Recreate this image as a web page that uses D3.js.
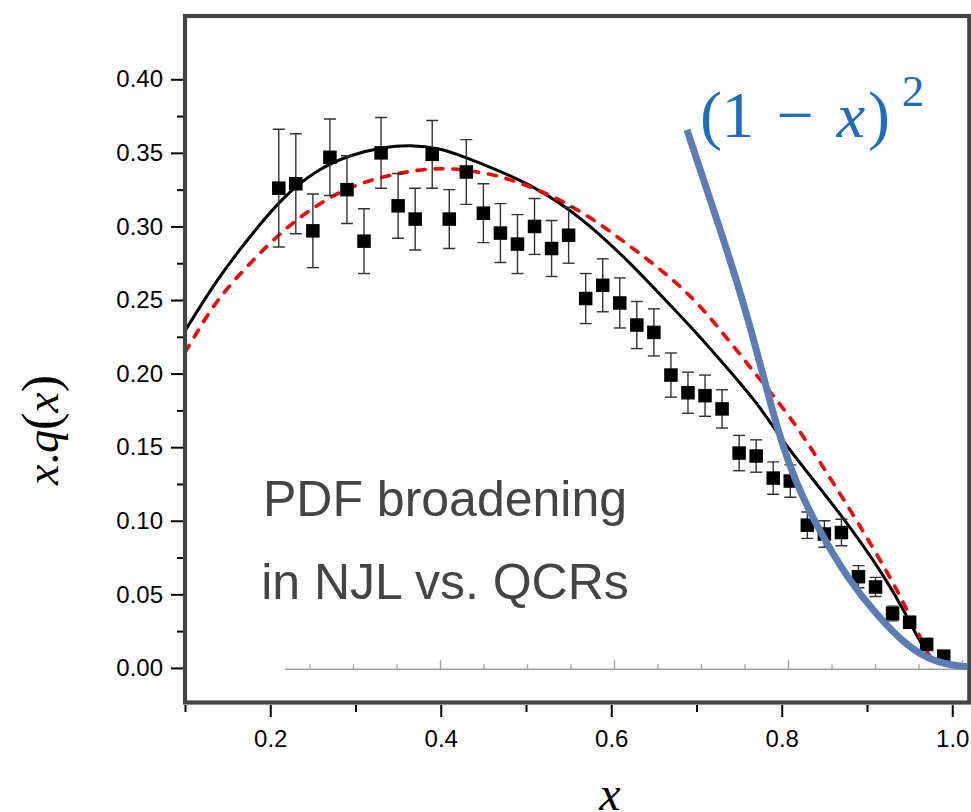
<!DOCTYPE html>
<html>
<head>
<meta charset="utf-8">
<script src="https://cdn.jsdelivr.net/npm/d3@7/dist/d3.min.js"></script>
<style>
  html, body { margin: 0; padding: 0; background: #fff; }
  svg { display: block; }
</style>
</head>
<body>
<svg id="chart" width="971" height="812"></svg>
<script>
// ---- Data: lattice points with uncertainties ----
const pointX = [0.21, 0.23, 0.25, 0.27, 0.29, 0.31, 0.33, 0.35, 0.37, 0.39,
                0.41, 0.43, 0.45, 0.47, 0.49, 0.51, 0.53, 0.55, 0.57, 0.59,
                0.61, 0.63, 0.65, 0.67, 0.69, 0.71, 0.73, 0.75, 0.77, 0.79,
                0.81, 0.83, 0.85, 0.87, 0.89, 0.91, 0.93, 0.95, 0.97, 0.99];
const pointY = [0.326, 0.329, 0.297, 0.347, 0.325, 0.290, 0.350, 0.314, 0.305, 0.349,
                0.305, 0.337, 0.309, 0.2955, 0.288, 0.300, 0.285, 0.294, 0.251, 0.260,
                0.248, 0.233, 0.228, 0.199, 0.187, 0.185, 0.176, 0.146, 0.144, 0.129,
                0.127, 0.097, 0.091, 0.092, 0.062, 0.055, 0.037, 0.031, 0.016, 0.008];
const pointErr = [0.040, 0.034, 0.025, 0.026, 0.023, 0.022, 0.024, 0.022, 0.021, 0.023,
                  0.020, 0.022, 0.020, 0.020, 0.020, 0.019, 0.019, 0.019, 0.017, 0.018,
                  0.017, 0.016, 0.016, 0.015, 0.014, 0.014, 0.013, 0.012, 0.011, 0.011,
                  0.011, 0.009, 0.009, 0.009, 0.0075, 0.0065, 0.005, 0.004, 0.003, 0.002];

// ---- Model curves ----
const solidX = [0.100, 0.137, 0.176, 0.2153, 0.2543, 0.2935, 0.3326, 0.3639, 0.399, 0.4268,
                0.4659, 0.505, 0.544, 0.5832, 0.6223, 0.6614, 0.7005, 0.7396, 0.7748, 0.8041,
                0.8706, 0.9234, 0.9449, 0.9645, 0.978];
const solidY = [0.229, 0.2637, 0.2932, 0.3204, 0.3385, 0.3487, 0.3539, 0.3555, 0.3532, 0.3475,
                0.3385, 0.3283, 0.3147, 0.2966, 0.2751, 0.2513, 0.2275, 0.2014, 0.1776, 0.151,
                0.104, 0.0598, 0.0372, 0.015, 0.005];

const dashedX = [0.100, 0.1136, 0.137, 0.176, 0.2153, 0.2543, 0.2935, 0.3326, 0.3716, 0.403,
                 0.4268, 0.4659, 0.505, 0.544, 0.5832, 0.6223, 0.6614, 0.7005, 0.7375, 0.7748,
                 0.810, 0.8432, 0.8804, 0.9155, 0.9351, 0.9527, 0.9722];
const dashedY = [0.2145, 0.2275, 0.2501, 0.2751, 0.2977, 0.3147, 0.3271, 0.334, 0.3385, 0.3396,
                 0.3385, 0.3351, 0.3271, 0.317, 0.3034, 0.2864, 0.2694, 0.249, 0.2229, 0.1957,
                 0.1708, 0.1414, 0.1074, 0.0734, 0.053, 0.0326, 0.0088];

// (1 - x)^2 reference envelope
const envX = [0.6888, 0.7083, 0.7279, 0.7475, 0.7630, 0.7787, 0.7944, 0.8147, 0.8432, 0.8784,
              0.9097, 0.9469, 0.9781, 1.0094, 1.025];
const envY = [0.3657, 0.3317, 0.2977, 0.2624, 0.2318, 0.1978, 0.1631, 0.1278, 0.0938, 0.0598,
              0.0372, 0.0145, 0.0043, 0.0009, 0.0007];

// ---- Axis ticks ----
const yMajorTicks = [0.00, 0.05, 0.10, 0.15, 0.20, 0.25, 0.30, 0.35, 0.40];
const yMinorTicks = [0.025, 0.075, 0.125, 0.175, 0.225, 0.275, 0.325, 0.375];
const xMajorTicks = [0.2, 0.4, 0.6, 0.8, 1.0];
const xMinorTicks = [0.1, 0.3, 0.5, 0.7, 0.9];
const insetMajorTicks = [0.4, 0.6, 0.8, 1.0];
const insetMinorTicks = [0.25, 0.30, 0.35, 0.45, 0.50, 0.55, 0.65, 0.70, 0.75, 0.85, 0.90, 0.95];

// ---- Layout ----
const svg = d3.select("#chart");
const x = d3.scaleLinear().domain([0.1, 1.02]).range([185, 969.3]);
const y = d3.scaleLinear().domain([-0.0235, 0.443]).range([702.5, 16]);
const xInset = d3.scaleLinear().domain([0.2, 1.0]).range([266, 962]);

const [x0, x1] = x.range();
const [yb, yt] = y.range();

svg.append("defs").append("clipPath").attr("id", "plotClip")
  .append("rect")
  .attr("x", x0 + 2).attr("y", yt + 2)
  .attr("width", x1 - x0 - 4).attr("height", yb - yt - 4);

const tickFont = "'Liberation Sans', Arial, Helvetica, sans-serif";

// Y axis (ticks point outward)
const yAxisMajor = d3.axisLeft(y).tickValues(yMajorTicks).tickSize(12).tickPadding(8)
  .tickFormat(d3.format(".2f"));
const yAxisMinor = d3.axisLeft(y).tickValues(yMinorTicks).tickSize(6).tickFormat("");
const gy = svg.append("g").attr("transform", `translate(${x0 - 2},0)`);
gy.append("g").call(yAxisMajor);
gy.append("g").call(yAxisMinor);

// X axis
const xAxisMajor = d3.axisBottom(x).tickValues(xMajorTicks).tickSize(12).tickPadding(13)
  .tickFormat(d3.format(".1f"));
const xAxisMinor = d3.axisBottom(x).tickValues(xMinorTicks).tickSize(7).tickFormat("");
const gx = svg.append("g").attr("transform", `translate(0,${yb + 2.5})`);
gx.append("g").call(xAxisMajor);
gx.append("g").call(xAxisMinor);

svg.selectAll(".domain").remove();
svg.selectAll(".tick line").attr("stroke", "#000").attr("stroke-width", 2);
svg.selectAll(".tick text")
  .attr("font-family", tickFont).attr("font-size", 24).attr("fill", "#000");

// Plot content
const plot = svg.append("g").attr("clip-path", "url(#plotClip)");

// Inset baseline axis for the (1-x)^2 envelope
const insetY = y(0) + 1.3;
const insetG = plot.append("g").attr("transform", `translate(0,${insetY})`);
insetG.append("line")
  .attr("x1", xInset(0.222)).attr("x2", x1)
  .attr("stroke", "#a0a0a0").attr("stroke-width", 1.6);
insetG.append("g").call(d3.axisTop(xInset).tickValues(insetMajorTicks).tickSize(9).tickFormat(""));
insetG.append("g").call(d3.axisTop(xInset).tickValues(insetMinorTicks).tickSize(5).tickFormat(""));
insetG.selectAll(".domain").remove();
insetG.selectAll(".tick line").attr("stroke", "#a0a0a0").attr("stroke-width", 1.3);

const line = d3.line().x(d => x(d[0])).y(d => y(d[1])).curve(d3.curveBasis);

// Solid model curve
plot.append("path")
  .datum(d3.zip(solidX, solidY))
  .attr("d", line)
  .attr("fill", "none").attr("stroke", "#000").attr("stroke-width", 3);

// Dashed model curve
plot.append("path")
  .datum(d3.zip(dashedX, dashedY))
  .attr("d", line)
  .attr("fill", "none").attr("stroke", "#ff0000").attr("stroke-width", 3.6)
  .attr("stroke-dasharray", "8 10").attr("stroke-linecap", "round");

// Data points with error bars
const pts = d3.range(pointX.length).map(i => ({ x: pointX[i], y: pointY[i], e: pointErr[i] }));
const eb = plot.append("g").attr("stroke", "#333").attr("stroke-width", 1.4);
eb.selectAll("line.v").data(pts).join("line").attr("class", "v")
  .attr("x1", d => x(d.x)).attr("x2", d => x(d.x))
  .attr("y1", d => y(d.y + d.e)).attr("y2", d => y(d.y - d.e));
eb.selectAll("line.t").data(pts).join("line").attr("class", "t")
  .attr("x1", d => x(d.x) - 6).attr("x2", d => x(d.x) + 6)
  .attr("y1", d => y(d.y + d.e)).attr("y2", d => y(d.y + d.e));
eb.selectAll("line.b").data(pts).join("line").attr("class", "b")
  .attr("x1", d => x(d.x) - 6).attr("x2", d => x(d.x) + 6)
  .attr("y1", d => y(d.y - d.e)).attr("y2", d => y(d.y - d.e));

const sq = 13.5;
plot.append("g").selectAll("rect").data(pts).join("rect")
  .attr("x", d => x(d.x) - sq / 2).attr("y", d => y(d.y) - sq / 2)
  .attr("width", sq).attr("height", sq).attr("fill", "#000");

// Envelope curve
plot.append("path")
  .datum(d3.zip(envX, envY))
  .attr("d", line)
  .attr("fill", "none").attr("stroke", "#5b7db5").attr("stroke-width", 7)
  .attr("stroke-linecap", "butt");

// Frame
svg.append("rect")
  .attr("x", x0).attr("y", yt)
  .attr("width", x1 - x0).attr("height", yb - yt)
  .attr("fill", "none").attr("stroke", "#454545").attr("stroke-width", 4.2);

// Annotation text
const note = svg.append("text")
  .attr("font-family", tickFont).attr("font-size", 50).attr("fill", "#444")
  .attr("text-anchor", "middle");
note.append("tspan").attr("x", 445).attr("y", 516).text("PDF broadening");
note.append("tspan").attr("x", 445).attr("y", 599).text("in NJL vs. QCRs");

// (1 - x)^2 label
const serif = "'Liberation Serif', 'Times New Roman', serif";
const lblColor = "#1c6dbf";
const glyphs = [
  { t: "(", cx: 711, y: 137, s: 66, it: false },
  { t: "1", cx: 738, y: 137, s: 66, it: false },
  { t: "\u2212", cx: 795, y: 137, s: 66, it: false },
  { t: "x", cx: 851, y: 137, s: 64, it: true },
  { t: ")", cx: 879, y: 137, s: 66, it: false },
  { t: "2", cx: 913, y: 106, s: 45, it: false }
];
svg.append("g").selectAll("text").data(glyphs).join("text")
  .attr("x", d => d.cx).attr("y", d => d.y)
  .attr("text-anchor", "middle")
  .attr("font-family", serif).attr("font-size", d => d.s)
  .attr("font-style", d => d.it ? "italic" : "normal")
  .attr("fill", lblColor).text(d => d.t);

// Axis titles
const yTitle = svg.append("text")
  .attr("transform", "translate(58,430) rotate(-90)")
  .attr("text-anchor", "middle")
  .attr("font-family", serif).attr("font-size", 46).attr("fill", "#000");
yTitle.append("tspan").attr("font-style", "italic").text("x");
yTitle.append("tspan").text(".");
yTitle.append("tspan").attr("font-style", "italic").text("q");
yTitle.append("tspan").attr("font-size", 52).text("(");
yTitle.append("tspan").attr("font-style", "italic").text("x");
yTitle.append("tspan").attr("font-size", 52).text(")");

svg.append("text")
  .attr("x", 610).attr("y", 810)
  .attr("text-anchor", "middle")
  .attr("font-family", serif).attr("font-size", 48).attr("font-style", "italic")
  .attr("fill", "#000").text("x");
</script>
</body>
</html>
